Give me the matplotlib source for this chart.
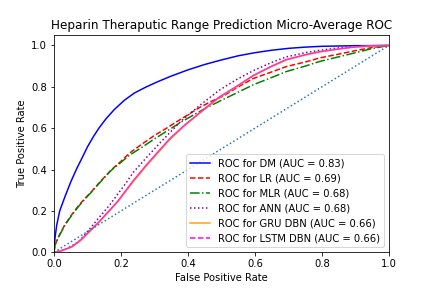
import matplotlib
matplotlib.use("Agg")
from matplotlib import pyplot as plt
from matplotlib.lines import Line2D

# ROC points
dm_fpr = [0.0, 0.003, 0.008, 0.017, 0.033, 0.05, 0.068, 0.085, 0.1, 0.118, 0.134, 0.155, 0.18, 0.21, 0.24,
          0.276, 0.31, 0.35, 0.4, 0.45, 0.5, 0.55, 0.6, 0.65, 0.7, 0.75, 0.8, 0.9, 1.0]
dm_tpr = [0.0, 0.07, 0.13, 0.20, 0.27, 0.34, 0.405, 0.46, 0.51, 0.56, 0.60, 0.645, 0.69, 0.735, 0.77,
          0.80, 0.825, 0.852, 0.882, 0.908, 0.93, 0.95, 0.965, 0.977, 0.986, 0.992, 0.996, 0.999, 1.0]

lr_fpr = [0.0, 0.003, 0.015, 0.033, 0.05, 0.073, 0.095, 0.113, 0.14, 0.172, 0.2, 0.226, 0.26, 0.3, 0.336,
          0.38, 0.435, 0.47, 0.505, 0.55, 0.595, 0.65, 0.694, 0.75, 0.794, 0.85, 0.9, 0.95, 1.0]
lr_tpr = [0.0, 0.035, 0.08, 0.135, 0.175, 0.225, 0.265, 0.295, 0.345, 0.40, 0.44, 0.48, 0.52, 0.565, 0.60,
          0.645, 0.70, 0.73, 0.755, 0.80, 0.84, 0.872, 0.898, 0.92, 0.94, 0.958, 0.975, 0.99, 1.0]

mlr_fpr = [0.0, 0.003, 0.015, 0.033, 0.05, 0.073, 0.095, 0.113, 0.14, 0.172, 0.2, 0.226, 0.26, 0.3, 0.336,
           0.38, 0.445, 0.5, 0.545, 0.595, 0.65, 0.694, 0.75, 0.794, 0.85, 0.9, 0.95, 1.0]
mlr_tpr = [0.0, 0.035, 0.078, 0.132, 0.172, 0.221, 0.262, 0.293, 0.343, 0.398, 0.435, 0.47, 0.505, 0.548, 0.585,
           0.63, 0.69, 0.735, 0.77, 0.81, 0.845, 0.874, 0.90, 0.923, 0.945, 0.965, 0.985, 1.0]

ann_fpr = [0.0, 0.015, 0.03, 0.05, 0.073, 0.1, 0.133, 0.167, 0.192, 0.215, 0.236, 0.28, 0.326, 0.38, 0.435,
           0.495, 0.545, 0.595, 0.65, 0.694, 0.75, 0.794, 0.85, 0.9, 0.95, 1.0]
ann_tpr = [0.0, 0.005, 0.012, 0.028, 0.05, 0.10, 0.165, 0.23, 0.285, 0.335, 0.385, 0.465, 0.545, 0.635, 0.71,
           0.785, 0.835, 0.878, 0.918, 0.945, 0.965, 0.977, 0.988, 0.995, 0.999, 1.0]

gru_fpr = [0.0, 0.02, 0.053, 0.08, 0.105, 0.133, 0.167, 0.192, 0.236, 0.28, 0.346, 0.39, 0.445, 0.495, 0.545,
           0.595, 0.65, 0.694, 0.75, 0.794, 0.85, 0.9, 0.95, 1.0]
gru_tpr = [0.0, 0.006, 0.025, 0.057, 0.097, 0.142, 0.202, 0.247, 0.34, 0.425, 0.545, 0.612, 0.685, 0.75, 0.80,
           0.853, 0.898, 0.93, 0.954, 0.969, 0.983, 0.993, 0.998, 1.0]

lstm_fpr = [0.0, 0.02, 0.053, 0.08, 0.105, 0.133, 0.167, 0.192, 0.236, 0.28, 0.346, 0.39, 0.445, 0.495, 0.545,
            0.595, 0.65, 0.694, 0.75, 0.794, 0.85, 0.9, 0.95, 1.0]
lstm_tpr = [0.0, 0.006, 0.027, 0.06, 0.10, 0.145, 0.205, 0.25, 0.345, 0.43, 0.55, 0.615, 0.688, 0.752, 0.802,
            0.855, 0.90, 0.932, 0.955, 0.97, 0.983, 0.993, 0.998, 1.0]

labels = [
    "ROC for DM (AUC = 0.83)",
    "ROC for LR (AUC = 0.69)",
    "ROC for MLR (AUC = 0.68)",
    "ROC for ANN (AUC = 0.68)",
    "ROC for GRU DBN (AUC = 0.66)",
    "ROC for LSTM DBN (AUC = 0.66)",
]

fig, ax = plt.subplots(figsize=(6, 4), dpi=72)
fig.subplots_adjust(left=0.125, right=0.9, bottom=0.124, top=0.878)

ax.plot(dm_fpr, dm_tpr, color="blue", label=labels[0])
ax.plot(lr_fpr, lr_tpr, "r--", label=labels[1])
ax.plot(mlr_fpr, mlr_tpr, "g-.", label=labels[2])
ax.plot(ann_fpr, ann_tpr, color="purple", linestyle=":", label=labels[3])
ax.plot(gru_fpr, gru_tpr, color="orange", label=labels[4])
# the dashed magenta sits on the orange line, so it reads as a solid pink stroke
ax.plot(lstm_fpr, lstm_tpr, color="#ff2ec4")
ax.plot([0, 1], [0, 1], linestyle=":")  # chance line

ax.set_xlim(0.0, 1.0)
ax.set_ylim(0.0, 1.05)
ax.set_xlabel("False Positive Rate")
ax.set_ylabel("True Positive Rate")
ax.set_title("Heparin Theraputic Range Prediction Micro-Average ROC")

handles = ax.get_legend_handles_labels()[0]
handles.append(Line2D([], [], color="magenta", linestyle="--"))
ax.legend(handles, labels, loc="lower right")

plt.savefig("out.png", dpi=72)
plt.close()
